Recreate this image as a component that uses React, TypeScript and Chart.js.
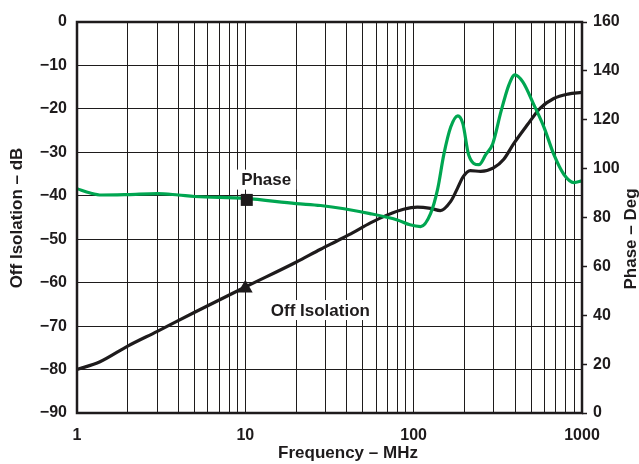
import React, { useEffect, useRef } from "react";
import { Chart, registerables } from "chart.js";

Chart.register(...registerables);

// Off Isolation (dB) vs frequency (MHz)
const isoFreq = [1, 1.37, 2, 3, 5, 10, 20, 28, 35, 43.6, 55, 70, 87, 105, 126, 144, 166, 182, 197, 217, 250, 298, 343, 393, 475, 565, 680, 825, 1000];
const isoDb = [-80, -78.2, -74.6, -71.2, -66.8, -61, -55.3, -52.3, -50.4, -48.5, -46.3, -44.4, -43.1, -42.6, -42.9, -43.4, -41.3, -38.3, -35.6, -34.2, -34.4, -33.6, -31.6, -28, -23.6, -19.8, -17.6, -16.6, -16.2];

// Phase (deg) vs frequency (MHz)
const phaseFreq = [1, 1.2, 1.4, 2, 3, 4, 5, 10, 20, 28, 55, 80, 95, 110, 126, 139, 151, 166, 183, 196, 212, 244, 268, 295, 330, 368, 399, 445, 518, 594, 681, 781, 896, 1000];
const phaseDeg = [91.8, 90, 89.2, 89.4, 89.8, 89.2, 88.6, 87.8, 85.7, 84.9, 81.6, 79, 77, 76.3, 81.6, 91.8, 105.7, 117, 121.6, 118.4, 105.7, 101.6, 105.7, 110.2, 123.3, 134.3, 138.4, 135.5, 126.1, 117, 105.7, 97.6, 94.3, 95];

// Marker points
const phaseMarker = { freq: 10.2, deg: 87.2 };
const isoMarker = { freq: 10, db: -61.3 };

// Tick values
const xTickValues = [1, 2, 3, 4, 5, 6, 7, 8, 9, 10, 20, 30, 40, 50, 60, 70, 80, 90, 100, 200, 300, 400, 500, 600, 700, 800, 900, 1000];
const xLabelValues = [1, 10, 100, 1000];

const GREEN = "#00a651";
const BLACK = "#1e1b1c";
const FONT = "'Liberation Sans', Arial, Helvetica, sans-serif";

const decorPlugin = {
  id: "decor",
  beforeDatasetsDraw(chart: any) {
    const { ctx } = chart;
    const x = chart.scales.x;
    const yL = chart.scales.y;
    const yR = chart.scales.y1;
    ctx.save();
    ctx.font = `bold 17px ${FONT}`;
    ctx.textAlign = "center";
    ctx.textBaseline = "middle";
    const labels = [
      { text: "Phase", px: x.getPixelForValue(13.3), py: yR.getPixelForValue(95.5) },
      { text: "Off Isolation", px: x.getPixelForValue(27.9), py: yL.getPixelForValue(-66.3) },
    ];
    for (const l of labels) {
      const w = ctx.measureText(l.text).width;
      ctx.fillStyle = "#ffffff";
      ctx.fillRect(l.px - w / 2 - 5, l.py - 10, w + 10, 20);
      ctx.fillStyle = BLACK;
      ctx.fillText(l.text, l.px, l.py + 1);
    }
    ctx.restore();
  },
  afterDraw(chart: any) {
    const { ctx, chartArea } = chart;
    ctx.save();
    ctx.strokeStyle = BLACK;
    ctx.lineWidth = 2.5;
    ctx.strokeRect(chartArea.left, chartArea.top, chartArea.right - chartArea.left, chartArea.bottom - chartArea.top);
    ctx.fillStyle = BLACK;
    ctx.font = `bold 17px ${FONT}`;
    ctx.textAlign = "center";
    ctx.textBaseline = "middle";
    ctx.fillText("Frequency – MHz", 348, 453);
    ctx.save();
    ctx.translate(17, 218);
    ctx.rotate(-Math.PI / 2);
    ctx.fillText("Off Isolation – dB", 0, 0);
    ctx.restore();
    ctx.save();
    ctx.translate(631, 239);
    ctx.rotate(-Math.PI / 2);
    ctx.fillText("Phase – Deg", 0, 0);
    ctx.restore();
    ctx.restore();
  },
};

export default function App() {
  const ref = useRef<HTMLCanvasElement | null>(null);

  useEffect(() => {
    if (!ref.current) return;
    const chart = new Chart(ref.current, {
      type: "line",
      data: {
        datasets: [
          {
            label: "PhaseMarker",
            data: [{ x: phaseMarker.freq, y: phaseMarker.deg }],
            yAxisID: "y1",
            showLine: false,
            pointStyle: "rect",
            pointRadius: 8.5,
            backgroundColor: BLACK,
            borderColor: BLACK,
            borderWidth: 0,
          },
          {
            label: "IsoMarker",
            data: [{ x: isoMarker.freq, y: isoMarker.db }],
            yAxisID: "y",
            showLine: false,
            pointStyle: "triangle",
            pointRadius: 8.5,
            backgroundColor: BLACK,
            borderColor: BLACK,
            borderWidth: 0,
          },
          {
            label: "Phase",
            data: phaseFreq.map((f, i) => ({ x: f, y: phaseDeg[i] })),
            yAxisID: "y1",
            borderColor: GREEN,
            borderWidth: 3.2,
            pointRadius: 0,
            cubicInterpolationMode: "monotone",
          },
          {
            label: "Off Isolation",
            data: isoFreq.map((f, i) => ({ x: f, y: isoDb[i] })),
            yAxisID: "y",
            borderColor: BLACK,
            borderWidth: 3.2,
            pointRadius: 0,
            cubicInterpolationMode: "monotone",
          },
        ],
      } as any,
      options: {
        animation: false,
        responsive: true,
        maintainAspectRatio: false,
        devicePixelRatio: 1,
        layout: { padding: { top: 22, left: 0, right: 0, bottom: 0 } },
        plugins: {
          legend: { display: false },
          tooltip: { enabled: false },
        },
        font: { family: FONT },
        scales: {
          x: {
            type: "logarithmic",
            min: 1,
            max: 1000,
            afterBuildTicks(scale: any) {
              scale.ticks = xTickValues.map((v) => ({ value: v, major: xLabelValues.includes(v) }));
            },
            afterFit(scale: any) {
              scale.height = 51;
            },
            grid: { color: BLACK, lineWidth: 1, drawTicks: false },
            border: { display: false },
            ticks: {
              autoSkip: false,
              maxRotation: 0,
              padding: 13,
              color: BLACK,
              font: { family: FONT, size: 16, weight: "bold" },
              callback: (v: any) => (xLabelValues.includes(Number(v)) ? String(v) : ""),
            },
          },
          y: {
            type: "linear",
            position: "left",
            min: -90,
            max: 0,
            afterFit(scale: any) {
              scale.width = 77;
            },
            grid: { color: BLACK, lineWidth: 1, drawTicks: false },
            border: { display: false },
            ticks: {
              stepSize: 10,
              padding: 10,
              color: BLACK,
              font: { family: FONT, size: 16, weight: "bold" },
              callback: (v: any) => (Number(v) < 0 ? "−" + Math.abs(Number(v)) : String(v)),
            },
          },
          y1: {
            type: "linear",
            position: "right",
            min: 0,
            max: 160,
            afterFit(scale: any) {
              scale.width = 57;
            },
            grid: { drawOnChartArea: false, drawTicks: true, tickLength: 5, tickColor: BLACK, tickWidth: 1.5 },
            border: { display: false },
            ticks: {
              stepSize: 20,
              padding: 6,
              color: BLACK,
              font: { family: FONT, size: 16, weight: "bold" },
            },
          },
        },
      } as any,
      plugins: [decorPlugin],
    });
    return () => chart.destroy();
  }, []);

  return (
    <div style={{ position: "absolute", left: 0, top: 0, width: 639, height: 464, background: "#fff" }}>
      <canvas ref={ref} />
    </div>
  );
}
